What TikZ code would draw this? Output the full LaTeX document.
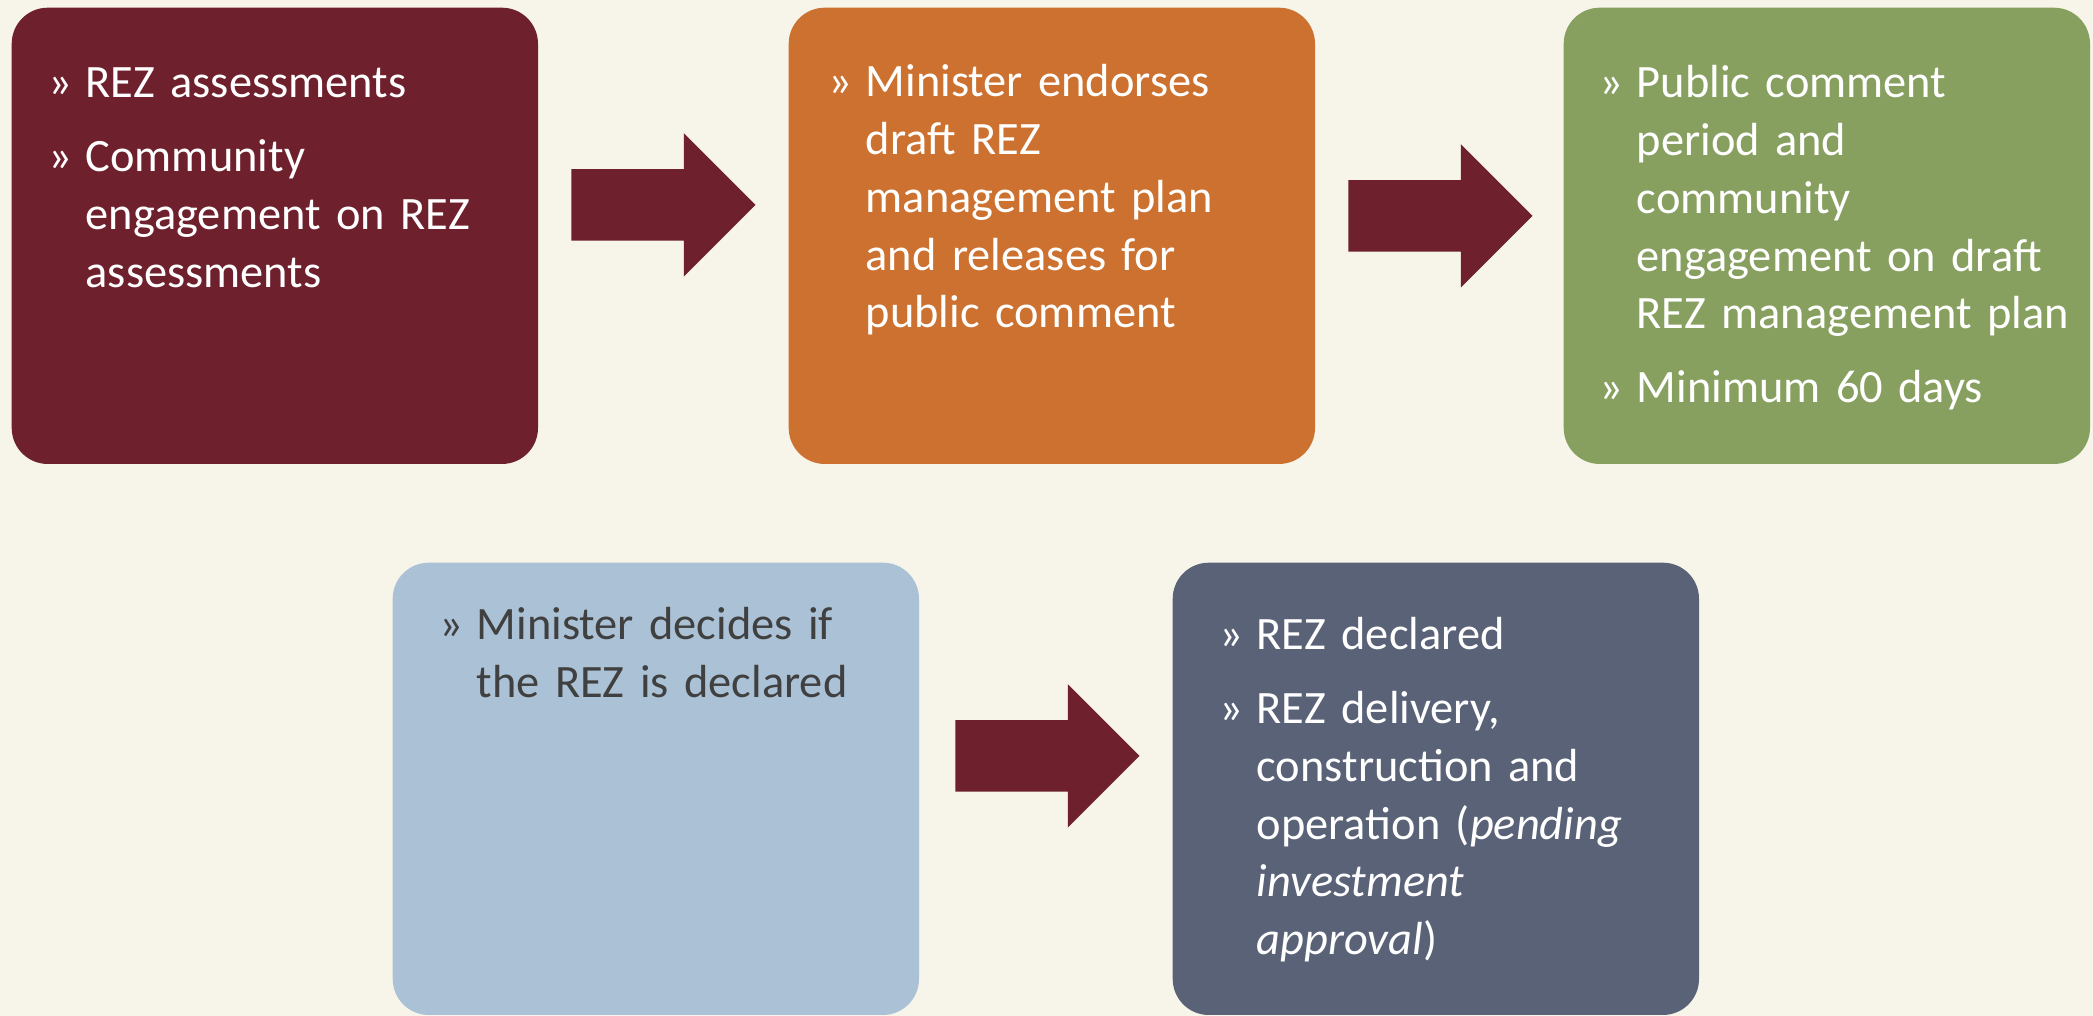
\documentclass[tikz,border=0pt]{standalone}
\usepackage{fontspec}
\setmainfont{Carlito}
\usepackage{tikz}
\usetikzlibrary{calc,shapes.arrows}
\definecolor{paper}{HTML}{F7F4E9}
\definecolor{maroon}{HTML}{6E212D}
\definecolor{orange}{HTML}{CC712F}
\definecolor{sage}{HTML}{87A060}
\definecolor{sky}{HTML}{ABC2D6}
\definecolor{slate}{HTML}{5A6278}
\definecolor{ink}{HTML}{404040}
\newcommand{\stagefont}{\fontsize{13.2pt}{16.4pt}\selectfont\setlength{\parskip}{0.16cm}}
\newcommand{\bitem}[1]{\noindent\makebox[0.37cm][l]{»}\parbox[t]{4.7cm}{#1\strut}\par
  \prevdepth=\dp\strutbox}
\tikzset{
  stage/.style={fill=#1, draw=none, rounded corners=0.36cm, inner sep=0pt,
    minimum width=5.26cm, minimum height=4.56cm, anchor=north west},
  stagetext/.style={anchor=base west, inner sep=0pt, text width=5.1cm, align=left,
    font=\stagefont, text=white},
  push/.style={single arrow, fill=maroon, draw=none, inner xsep=0pt, inner ysep=0.35cm,
    single arrow head extend=0.36cm, single arrow tip angle=90, minimum height=1.84cm,
    anchor=west},
}

\begin{document}
\begin{tikzpicture}[x=0.01cm, y=-0.01cm]
  \fill[paper] (0,0) rectangle (2093,1016);
  \useasboundingbox (0,0) rectangle (2093,1016);
  % top row
  \node[stage=maroon] (assess) at (11,7) {};
  \node[stage=orange] (endorse) at (788,7) {};
  \node[stage=sage] (consult) at (1563,7) {};
  % bottom row
  \node[stage=sky, minimum height=4.52cm] (decide) at (392,562) {};
  \node[stage=slate, minimum height=4.52cm] (declare) at (1172,562) {};

  \node[stagetext] (assess-t) at ($(assess.north west)+(37,91)$)
    {\bitem{REZ assessments}
     \bitem{Community\\ engagement on REZ\\ assessments}};
  \node[stagetext] (endorse-t) at ($(endorse.north west)+(40,90)$)
    {\bitem{Minister endorses\\ draft REZ\\ management plan\\ and releases for\\ public comment}};
  \node[stagetext] (consult-t) at ($(consult.north west)+(36,91)$)
    {\bitem{Public comment\\ period and\\ community\\ engagement on draft\\ REZ management plan}
     \bitem{Minimum 60 days}};
  \node[stagetext, text=ink] (decide-t) at ($(decide.north west)+(47,78)$)
    {\bitem{Minister decides if\\ the REZ is declared}};
  \node[stagetext] (declare-t) at ($(declare.north west)+(47,88)$)
    {\bitem{REZ declared}
     \bitem{REZ delivery,\\ construction and\\ operation (\textit{pending}\\
       \textit{investment}\\ \textit{approval})}};

  % block arrows between the stages
  \node[push] (a1) at ($(assess.east)+(32,-31)$) {};
  \node[push] (a2) at ($(endorse.east)+(32,-20)$) {};
  \node[push] (a3) at ($(decide.east)+(35,-33)$) {};
\end{tikzpicture}
\end{document}
